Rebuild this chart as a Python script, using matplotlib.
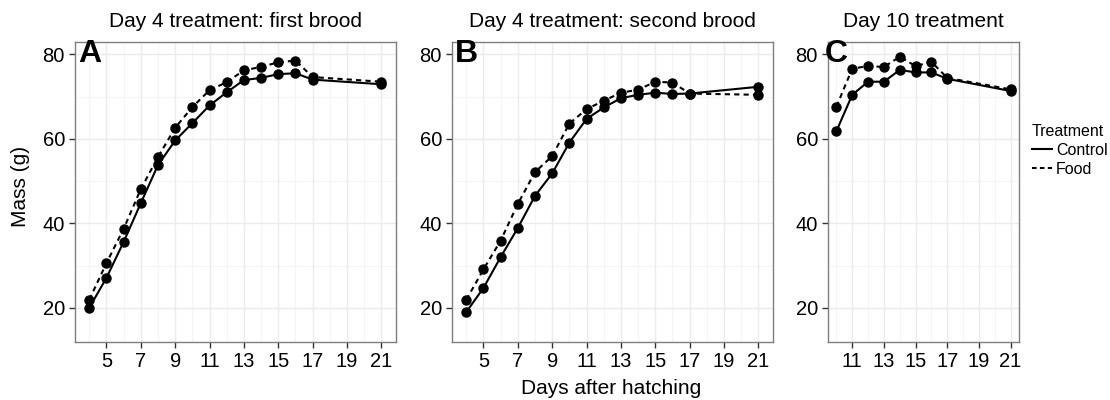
import matplotlib.pyplot as plt
import numpy as np

plt.rcParams['font.family'] = ['Liberation Sans', 'DejaVu Sans']

# ================================
# Data
# ================================
days_a = [4, 5, 6, 7, 8, 9, 10, 11, 12, 13, 14, 15, 16, 17, 21]
control_a = [20.0, 27.1, 35.6, 44.8, 53.8, 59.6, 63.7, 67.9, 71.0, 73.9, 74.4, 75.3, 75.5, 74.0, 72.9]
food_a = [21.9, 30.6, 38.7, 48.1, 55.7, 62.6, 67.5, 71.5, 73.4, 76.2, 77.0, 78.1, 78.5, 74.6, 73.5]

days_b = [4, 5, 6, 7, 8, 9, 10, 11, 12, 13, 14, 15, 16, 17, 21]
control_b = [19.0, 24.7, 32.0, 38.9, 46.5, 51.8, 59.1, 64.7, 67.4, 69.6, 70.4, 70.9, 70.6, 70.7, 72.3]
food_b = [21.9, 29.1, 35.9, 44.6, 52.1, 55.9, 63.6, 67.0, 69.0, 70.9, 71.6, 73.5, 73.3, 70.7, 70.4]

days_c = [10, 11, 12, 13, 14, 15, 16, 17, 21]
control_c = [61.8, 70.4, 73.5, 73.5, 76.3, 75.7, 75.7, 74.2, 71.3]
food_c = [67.6, 76.6, 77.2, 77.0, 79.4, 77.2, 78.2, 74.4, 71.7]

titles = ["Day 4 treatment: first brood", "Day 4 treatment: second brood", "Day 10 treatment"]
letters = ["A", "B", "C"]
xticks_ab = [5, 7, 9, 11, 13, 15, 17, 19, 21]
xticks_c = [11, 13, 15, 17, 19, 21]
yticks = [20, 40, 60, 80]

W, H = 1110, 400
fig = plt.figure(figsize=(W / 100, H / 100), dpi=100)

# panel boxes in pixels: left, right
boxes = [(74.7, 396), (451.7, 773), (827.7, 1019.3)]
top, bottom = 42, 342

panels = [
    (days_a, control_a, food_a, xticks_ab),
    (days_b, control_b, food_b, xticks_ab),
    (days_c, control_c, food_c, xticks_c),
]

dash = (0, (2.5, 2))
grid_col = "#ebebeb"
for i, ((x0, x1), (days, ctrl, food, xt)) in enumerate(zip(boxes, panels)):
    ax = fig.add_axes([x0 / W, 1 - bottom / H, (x1 - x0) / W, (bottom - top) / H])
    lo, hi = min(days), max(days)
    pad = (hi - lo) * 0.05
    ax.set_xlim(lo - pad, hi + pad)
    ax.set_ylim(11.9, 82.9)

    # minor grid between breaks
    minors_x = [t - 1 for t in xt] + [xt[-1] + 1]
    for m in minors_x:
        ax.axvline(m, color="#f5f5f5", lw=0.8, zorder=0)
    for m in [30, 50, 70]:
        ax.axhline(m, color="#f5f5f5", lw=0.8, zorder=0)
    for t in xt:
        ax.axvline(t, color=grid_col, lw=1.0, zorder=0)
    for t in yticks:
        ax.axhline(t, color=grid_col, lw=1.0, zorder=0)

    ax.plot(days, ctrl, color="black", lw=1.5, ls="-", marker="o", ms=6.5, zorder=3)
    ax.plot(days, food, color="black", lw=1.5, ls=dash, marker="o", ms=6.5, zorder=3)

    ax.set_xticks(xt)
    ax.set_yticks(yticks)
    ax.tick_params(labelsize=14.5, length=4.5, width=1, color="#333333",
                   labelcolor="black", pad=2.5)
    for s in ax.spines.values():
        s.set_color("#7f7f7f")
        s.set_linewidth(1.0)

    ax.text(lo, 80, letters[i], fontsize=23, fontweight="bold", ha="center", va="center", zorder=4)
    ax.set_title(titles[i], fontsize=15, pad=11)

# legend entries
lc, = ax.plot([], [], color="black", lw=1.5, ls="-", label="Control")
lf, = ax.plot([], [], color="black", lw=1.5, ls=(0, (2.2, 1.6)), label="Food")

fig.text(20 / W, 1 - 186 / H, "Mass (g)", fontsize=15, rotation=90, ha="center", va="center")
fig.text(611 / W, 1 - 388 / H, "Days after hatching", fontsize=15, ha="center", va="center")

leg = fig.legend(handles=[lc, lf], title="Treatment", loc="upper left",
                 bbox_to_anchor=(1032 / W, 1 - 124 / H), frameon=False,
                 fontsize=11.5, title_fontsize=11.5, handlelength=1.25,
                 handletextpad=0.25, labelspacing=0.25, borderaxespad=0, borderpad=0)
leg._legend_box.align = "left"

fig.savefig("out.png", dpi=100)
